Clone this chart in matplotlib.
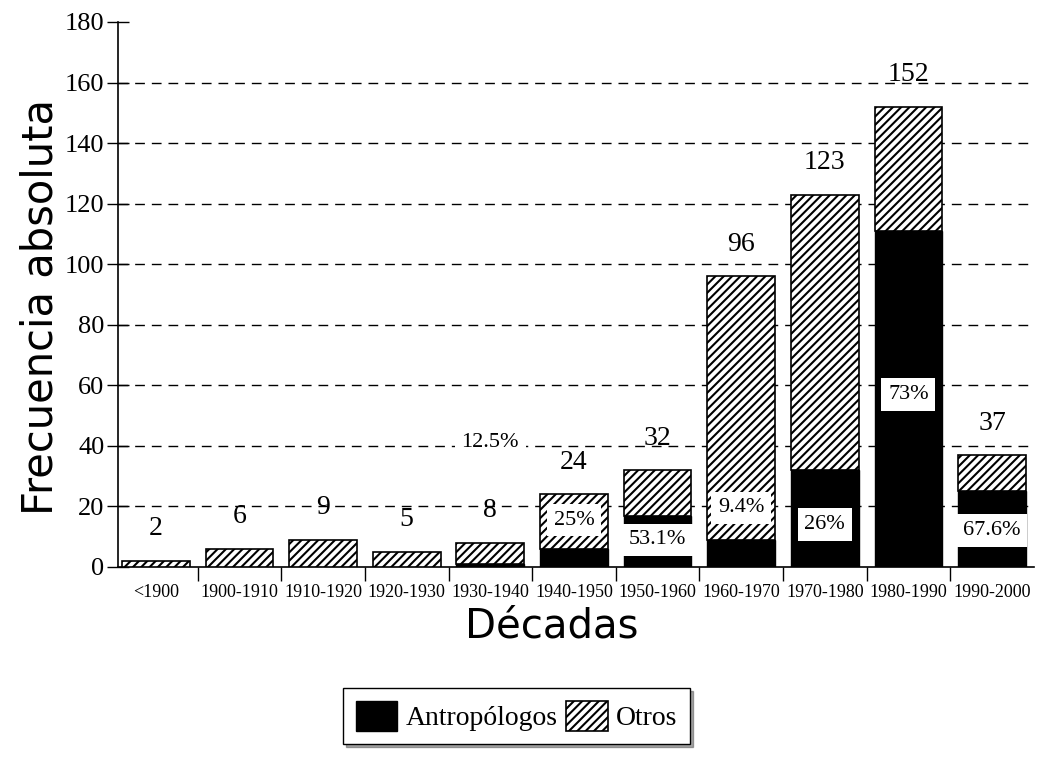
import matplotlib
matplotlib.use("Agg")
import matplotlib.pyplot as plt
import numpy as np

# data
decades = ["<1900", "1900-1910", "1910-1920", "1920-1930", "1930-1940", "1940-1950",
           "1950-1960", "1960-1970", "1970-1980", "1980-1990", "1990-2000"]
totals = [2, 6, 9, 5, 8, 24, 32, 96, 123, 152, 37]
antropologos = [0, 0, 0, 0, 1, 6, 17, 9, 32, 111, 25]
pct_labels = ["", "", "", "", "12.5%", "25%", "53.1%", "9.4%", "26%", "73%", "67.6%"]

# where the percentage boxes sit (layout only)
pct_label_y = [0, 0, 0, 0, 41, 15.5, 9, 19.5, 14, 57, 12]

SERIF = "Liberation Serif"
SANS = "DejaVu Sans"

otros = [t - a for t, a in zip(totals, antropologos)]
x = np.arange(len(decades))

plt.rcParams["hatch.linewidth"] = 1.5
fig = plt.figure(figsize=(10.37, 7.57), dpi=100)
ax = fig.add_axes([0.114, 0.251, 0.883, 0.720])

width = 0.81
b1 = ax.bar(x, antropologos, width, color="black", edgecolor="black", linewidth=1,
            label="Antropólogos", zorder=3)
b2 = ax.bar(x, otros, width, bottom=antropologos, color="white", edgecolor="black",
            hatch="////", linewidth=1.2, label="Otros", zorder=3)

for xi, t in zip(x, totals):
    ax.annotate(str(t), (xi, t), xytext=(0, 23), textcoords="offset points",
                ha="center", va="center", fontsize=20, family=SERIF, zorder=5)

for xi, lab, ly in zip(x, pct_labels, pct_label_y):
    if not lab:
        continue
    ax.text(xi, ly, lab, ha="center", va="center", fontsize=16, family=SERIF, zorder=6,
            bbox=dict(boxstyle="square,pad=0.3", facecolor="white", edgecolor="none"))

ax.set_xlim(-0.45, len(decades) - 0.5)
ax.set_ylim(0, 180)
ax.set_yticks(np.arange(0, 181, 20))
ax.tick_params(axis="y", direction="inout", length=16, width=1, labelsize=19, pad=2)
for lab in ax.get_yticklabels():
    lab.set_family(SERIF)

ax.set_xticks(x)
ax.set_xticklabels(decades, family=SERIF, fontsize=13)
ax.tick_params(axis="x", length=0, pad=12)
ax.set_xticks(np.arange(0.5, len(decades) - 0.5, 1), minor=True)
ax.tick_params(axis="x", which="minor", direction="out", length=10, width=1)

for yv in range(20, 161, 20):
    ax.axhline(yv, color="black", linewidth=1, linestyle=(0, (7, 5)), zorder=1)

ax.spines[["top", "right"]].set_visible(False)
ax.spines["left"].set_linewidth(1.2)
ax.spines["bottom"].set_linewidth(1.2)

ax.set_ylabel("Frecuencia absoluta", family=SANS, fontsize=30)
ax.yaxis.set_label_coords(-0.062, 0.477)
ax.set_xlabel("Décadas", family=SANS, fontsize=29)
ax.xaxis.set_label_coords(0.473, -0.072)

leg = fig.legend(handles=[b1, b2], loc="center", bbox_to_anchor=(0.498, 0.054), ncol=2,
                 prop={"family": SERIF, "size": 20}, frameon=True, fancybox=False,
                 shadow=True, handlelength=1.5, handleheight=1.3, handletextpad=0.3,
                 columnspacing=0.3, borderpad=0.45)
leg.get_frame().set_edgecolor("black")
leg.get_frame().set_linewidth(1)

fig.savefig("out.png", dpi=100, facecolor="white")
